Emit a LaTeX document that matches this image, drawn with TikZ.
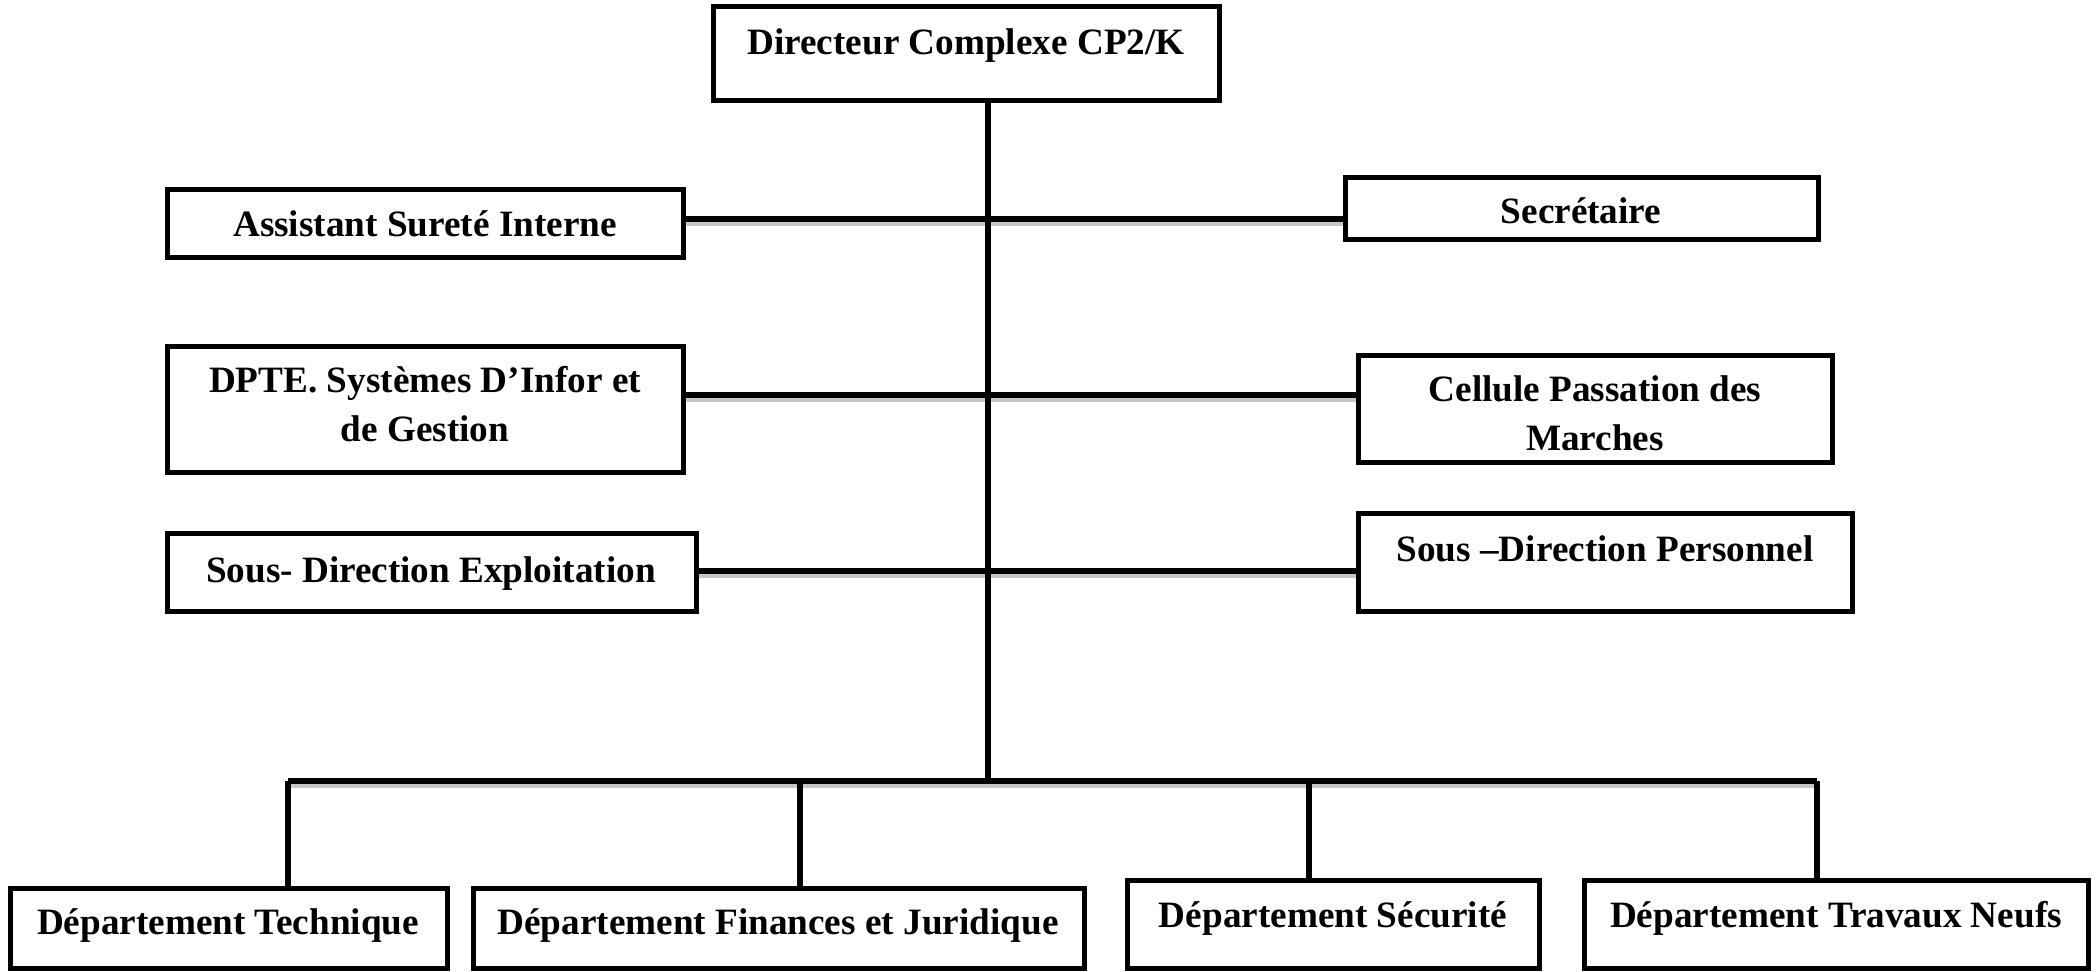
\documentclass[tikz,border=0pt]{standalone}
\usepackage{fontspec}
\setmainfont{Liberation Serif}
\begin{document}
\begin{tikzpicture}[x=0.5pt,y=-0.5pt,
  box/.style={draw=black, line width=2.5pt, fill=white, inner sep=0pt},
  lbl/.style={font=\fontsize{18.6}{24.5}\selectfont\bfseries, inner sep=0pt, anchor=base, align=center},
  conn/.style={line width=2.7pt, black},
  shade/.style={line width=3.5pt, black!22, line cap=butt}]
\useasboundingbox (0,0) rectangle (2100,972);
\fill[white] (0,0) rectangle (2100,972);

\newcommand{\mkbox}[5]{\node[box, minimum width={(#4-#2)*0.5pt}, minimum height={(#5-#3)*0.5pt}] (#1) at ({(#2+#4)/2},{(#3+#5)/2}) {};}

\coordinate (bl) at (288,781);
\coordinate (br) at (1817,781);
\coordinate (tb) at (988,781);
\coordinate (d1) at (800,781);
\coordinate (d2) at (1309,781);

\begin{scope}[transform canvas={shift={(1.2pt,-1.8pt)}}]
\draw[shade] (683,219) -- (1345,219);
\draw[shade] (683,395) -- (1358,395);
\draw[shade] (696,571) -- (1358,571);
\draw[shade] (288,781) -- (1817,781);
\end{scope}

\mkbox{dir}{713}{7}{1219}{101}
\mkbox{asi}{167}{190}{683}{258}
\mkbox{sec}{1345}{178}{1818}{240}
\mkbox{dpte}{167}{347}{683}{473}
\mkbox{cpm}{1358}{356}{1832}{463}
\mkbox{sde}{167}{534}{696}{612}
\mkbox{sdp}{1358}{514}{1852}{612}
\mkbox{dt}{10}{888}{447}{968}
\mkbox{dfj}{473}{888}{1084}{968}
\mkbox{ds}{1127}{880}{1539}{968}
\mkbox{dtn}{1584}{880}{2088}{968}

\draw[conn] (dir.south -| tb) -- (tb);
\draw[conn] (asi.east) ++(0,-5) -- (sec.west |- 0,219);
\draw[conn] (dpte.east |- 0,395) -- (cpm.west |- 0,395);
\draw[conn] (sde.east |- 0,571) -- (sdp.west |- 0,571);
\draw[conn] (bl) -- (br);
\draw[conn] (bl) -- (dt.north -| bl);
\draw[conn] (d1) -- (dfj.north -| d1);
\draw[conn] (d2) -- (ds.north -| d2);
\draw[conn] (br) -- (dtn.north -| br);

\node[lbl] (tdir) at (966,55) {Directeur Complexe CP2/K};
\node[lbl] (tasi) at (425,237) {Assistant Sureté Interne};
\node[lbl] (tsec) at (1581,224) {Secrétaire};
\node[lbl] (tdpte) at (425,442) {DPTE. Systèmes D’Infor et\\de Gestion};
\node[lbl] (tcpm) at (1595,451) {Cellule Passation des\\Marches};
\node[lbl] (tsde) at (431,583) {Sous- Direction Exploitation};
\node[lbl] (tsdp) at (1605,562) {Sous –Direction Personnel};
\node[lbl] (tdt) at (228,934) {Département Technique};
\node[lbl] (tdfj) at (778,934) {Département Finances et Juridique};
\node[lbl] (tds) at (1333,927) {Département Sécurité};
\node[lbl] (tdtn) at (1836,927) {Département Travaux Neufs};
\end{tikzpicture}
\end{document}
